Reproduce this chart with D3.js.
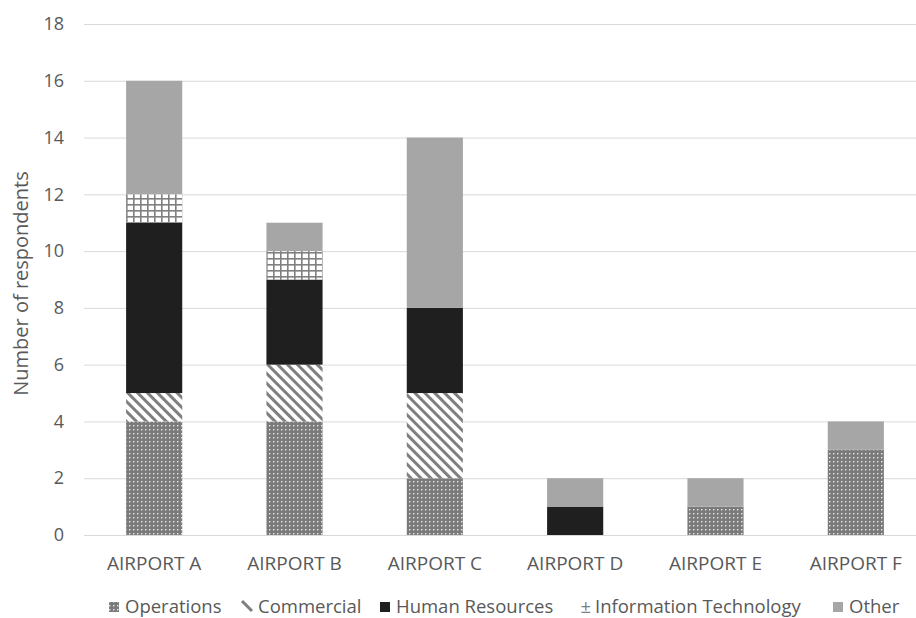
<!DOCTYPE html>
<html>
<head>
<meta charset="utf-8">
<script src="https://cdn.jsdelivr.net/npm/d3@7"></script>
<style>
  html, body { margin: 0; padding: 0; background: #fff; }
  svg { display: block; font-family: "Open Sans", "Noto Sans", sans-serif; }
</style>
</head>
<body>
<svg id="chart" width="916" height="618"></svg>
<script>
// Respondents per airport, by department
const airports = ["AIRPORT A", "AIRPORT B", "AIRPORT C", "AIRPORT D", "AIRPORT E", "AIRPORT F"];
const seriesNames = ["Operations", "Commercial", "Human Resources", "Information Technology", "Other"];
const operations = [4, 4, 2, 0, 1, 3];
const commercial = [1, 2, 3, 0, 0, 0];
const humanResources = [6, 3, 3, 1, 0, 0];
const informationTechnology = [1, 1, 0, 0, 0, 0];
const other = [4, 1, 6, 1, 1, 1];
const yTicks = [0, 2, 4, 6, 8, 10, 12, 14, 16, 18];

const seriesValues = [operations, commercial, humanResources, informationTechnology, other];
const rows = airports.map((a, i) => {
  const r = { airport: a };
  seriesNames.forEach((s, k) => { r[s] = seriesValues[k][i]; });
  return r;
});

const svg = d3.select("#chart");
const textColor = "#595959";

// Fill patterns for each series
const defs = svg.append("defs");

const pOps = defs.append("pattern").attr("id", "p-ops")
  .attr("patternUnits", "userSpaceOnUse").attr("width", 4).attr("height", 4);
pOps.append("rect").attr("width", 4).attr("height", 4).attr("fill", "#7a7a7a");
pOps.append("rect").attr("x", 1).attr("y", 1).attr("width", 1.4).attr("height", 1.4).attr("fill", "#ececec");

const pCom = defs.append("pattern").attr("id", "p-com")
  .attr("patternUnits", "userSpaceOnUse").attr("width", 7).attr("height", 7)
  .attr("patternTransform", "rotate(-45)");
pCom.append("rect").attr("width", 7).attr("height", 7).attr("fill", "#fff");
pCom.append("rect").attr("x", 0).attr("y", 0).attr("width", 3).attr("height", 7).attr("fill", "#7f7f7f");

const pIT = defs.append("pattern").attr("id", "p-it")
  .attr("patternUnits", "userSpaceOnUse").attr("width", 7).attr("height", 6);
pIT.append("rect").attr("width", 7).attr("height", 6).attr("fill", "#fff");
pIT.append("rect").attr("x", 0).attr("y", 0).attr("width", 1.6).attr("height", 6).attr("fill", "#808080");
pIT.append("rect").attr("x", 0).attr("y", 0).attr("width", 7).attr("height", 1.6).attr("fill", "#808080");

const fills = {
  "Operations": "url(#p-ops)",
  "Commercial": "url(#p-com)",
  "Human Resources": "#1f1f1f",
  "Information Technology": "url(#p-it)",
  "Other": "#a6a6a6"
};

// Scales
const plot = { left: 84, right: 926, top: 24, bottom: 535 };
const x = d3.scaleBand().domain(airports).range([plot.left, plot.right])
  .paddingInner(0.6).paddingOuter(0.3);
const y = d3.scaleLinear().domain([0, 18]).range([plot.bottom, plot.top]);

// Gridlines + y tick labels
const yAxis = d3.axisLeft(y).tickValues(yTicks).tickSize(-(plot.right - plot.left)).tickPadding(20);
const gy = svg.append("g").attr("transform", `translate(${plot.left},0)`).call(yAxis);
gy.select(".domain").remove();
gy.selectAll(".tick line").attr("stroke", "#d9d9d9").attr("stroke-width", 1);
gy.selectAll(".tick text").attr("fill", textColor).attr("font-size", 18)
  .attr("font-family", "'Open Sans', sans-serif");

// Stacked bars
const stacked = d3.stack().keys(seriesNames)(rows);
svg.append("g").selectAll("g").data(stacked).join("g")
  .attr("fill", d => fills[d.key])
  .selectAll("rect").data(d => d).join("rect")
  .attr("x", d => x(d.data.airport))
  .attr("width", x.bandwidth())
  .attr("y", d => y(d[1]))
  .attr("height", d => y(d[0]) - y(d[1]));

// Category axis labels
const xAxis = d3.axisBottom(x).tickSize(0).tickPadding(22);
const gx = svg.append("g").attr("transform", `translate(0,${plot.bottom})`).call(xAxis);
gx.select(".domain").attr("stroke", "#d9d9d9");
gx.selectAll(".tick text").attr("fill", textColor).attr("font-size", 19)
  .attr("font-family", "'Open Sans', sans-serif");

// Y axis title
svg.append("text")
  .attr("transform", `translate(28,${(plot.top + plot.bottom) / 2 + 4}) rotate(-90)`)
  .attr("text-anchor", "middle")
  .attr("fill", textColor).attr("font-size", 20)
  .text("Number of respondents");

// Legend
const legendTextX = [125, 258, 396, 595, 849];
const legend = svg.append("g").attr("font-size", 18.5).attr("fill", textColor);
seriesNames.forEach((s, i) => {
  const g = legend.append("g");
  const tx = legendTextX[i];
  if (s === "Commercial") {
    g.append("path").attr("d", `M${tx - 16},601 L${tx - 6},611`)
      .attr("stroke", "#7f7f7f").attr("stroke-width", 3);
  } else if (s === "Information Technology") {
    g.append("text").attr("x", tx - 4).attr("y", 613).attr("text-anchor", "end")
      .attr("fill", "#7f7f7f").text("±");
  } else {
    g.append("rect").attr("x", tx - 16).attr("y", 602).attr("width", 10).attr("height", 10)
      .attr("fill", fills[s]);
  }
  g.append("text").attr("x", tx).attr("y", 613).text(s);
});
</script>
</body>
</html>
